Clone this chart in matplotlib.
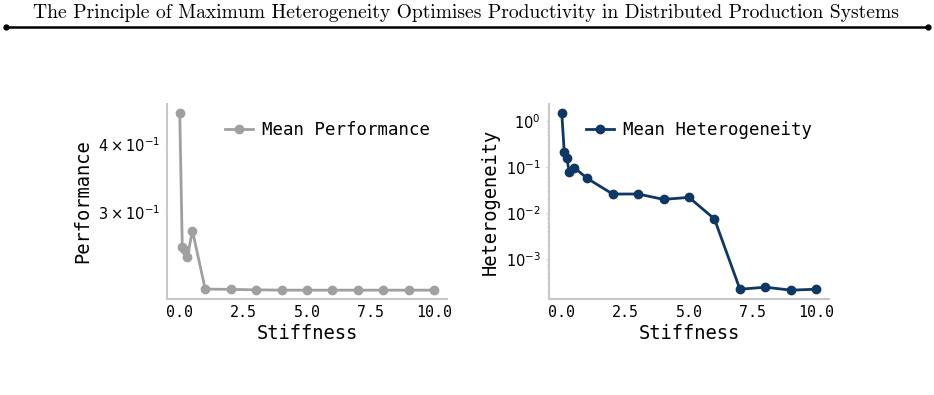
import matplotlib
matplotlib.use("Agg")
import matplotlib.pyplot as plt
from matplotlib.ticker import FormatStrFormatter

# Data
stiffness = [0, 0.1, 0.2, 0.3, 0.5, 1, 2, 3, 4, 5, 6, 7, 8, 9, 10]
performance = [0.458, 0.259, 0.255, 0.248, 0.277, 0.216, 0.2157, 0.2153, 0.215, 0.215,
               0.215, 0.215, 0.215, 0.215, 0.215]
heterogeneity = [1.49, 0.206, 0.153, 0.0762, 0.0961, 0.0565, 0.0259, 0.0259, 0.0198,
                 0.0219, 0.00744, 0.000223, 0.000247, 0.000213, 0.000223]
x_ticks = [0, 2.5, 5, 7.5, 10]

title = "The Principle of Maximum Heterogeneity Optimises Productivity in Distributed Production Systems"

MONO = "DejaVu Sans Mono"
SPINE = "#c8c8c8"

fig = plt.figure(figsize=(9.34, 3.95), dpi=100)

# header text + rule with dot ends
fig.text(0.499, 0.968, title, ha="center", va="center", family="cmr10", fontsize=14.1)
fig.add_artist(plt.Line2D([0.006, 0.994], [0.931, 0.931], color="black", lw=1.8,
                          transform=fig.transFigure))
fig.add_artist(plt.Line2D([0.006, 0.994], [0.931, 0.931], color="black", lw=0,
                          marker="o", markersize=3.5, transform=fig.transFigure))

ax1 = fig.add_axes([0.1788, 0.2430, 0.2998, 0.4937])
ax2 = fig.add_axes([0.5878, 0.2430, 0.2998, 0.4937])

ax1.plot(stiffness, performance, "-o", color="#a0a0a0", lw=2, markersize=6,
         label="Mean Performance")
ax2.plot(stiffness, heterogeneity, "-o", color="#0d3765", lw=2, markersize=6,
         label="Mean Heterogeneity")

for ax, ylab in [(ax1, "Performance"), (ax2, "Heterogeneity")]:
    ax.set_yscale("log")
    ax.set_xticks(x_ticks)
    ax.xaxis.set_major_formatter(FormatStrFormatter("%.1f"))
    ax.set_xlabel("Stiffness", family=MONO, fontsize=13.5, labelpad=3)
    ax.set_ylabel(ylab, family=MONO, fontsize=13.5, labelpad=4)
    for s in ["top", "right"]:
        ax.spines[s].set_visible(False)
    for s in ["left", "bottom"]:
        ax.spines[s].set_color(SPINE)
        ax.spines[s].set_linewidth(1.5)
    ax.tick_params(which="both", color=SPINE, width=0.6)
    ax.tick_params(axis="x", length=0, pad=4)
    ax.tick_params(axis="y", which="major", length=2.5, labelsize=10.5)
    ax.tick_params(axis="y", which="minor", length=1.5, labelsize=10.5)
    for t in ax.get_xticklabels():
        t.set_family(MONO)
        t.set_fontsize(10.8)
    ax.legend(loc="upper right", frameon=False, prop={"family": MONO, "size": 12.5},
              handlelength=1.6, handletextpad=0.5, borderaxespad=0.6)

fig.savefig("out.png", dpi=100)
